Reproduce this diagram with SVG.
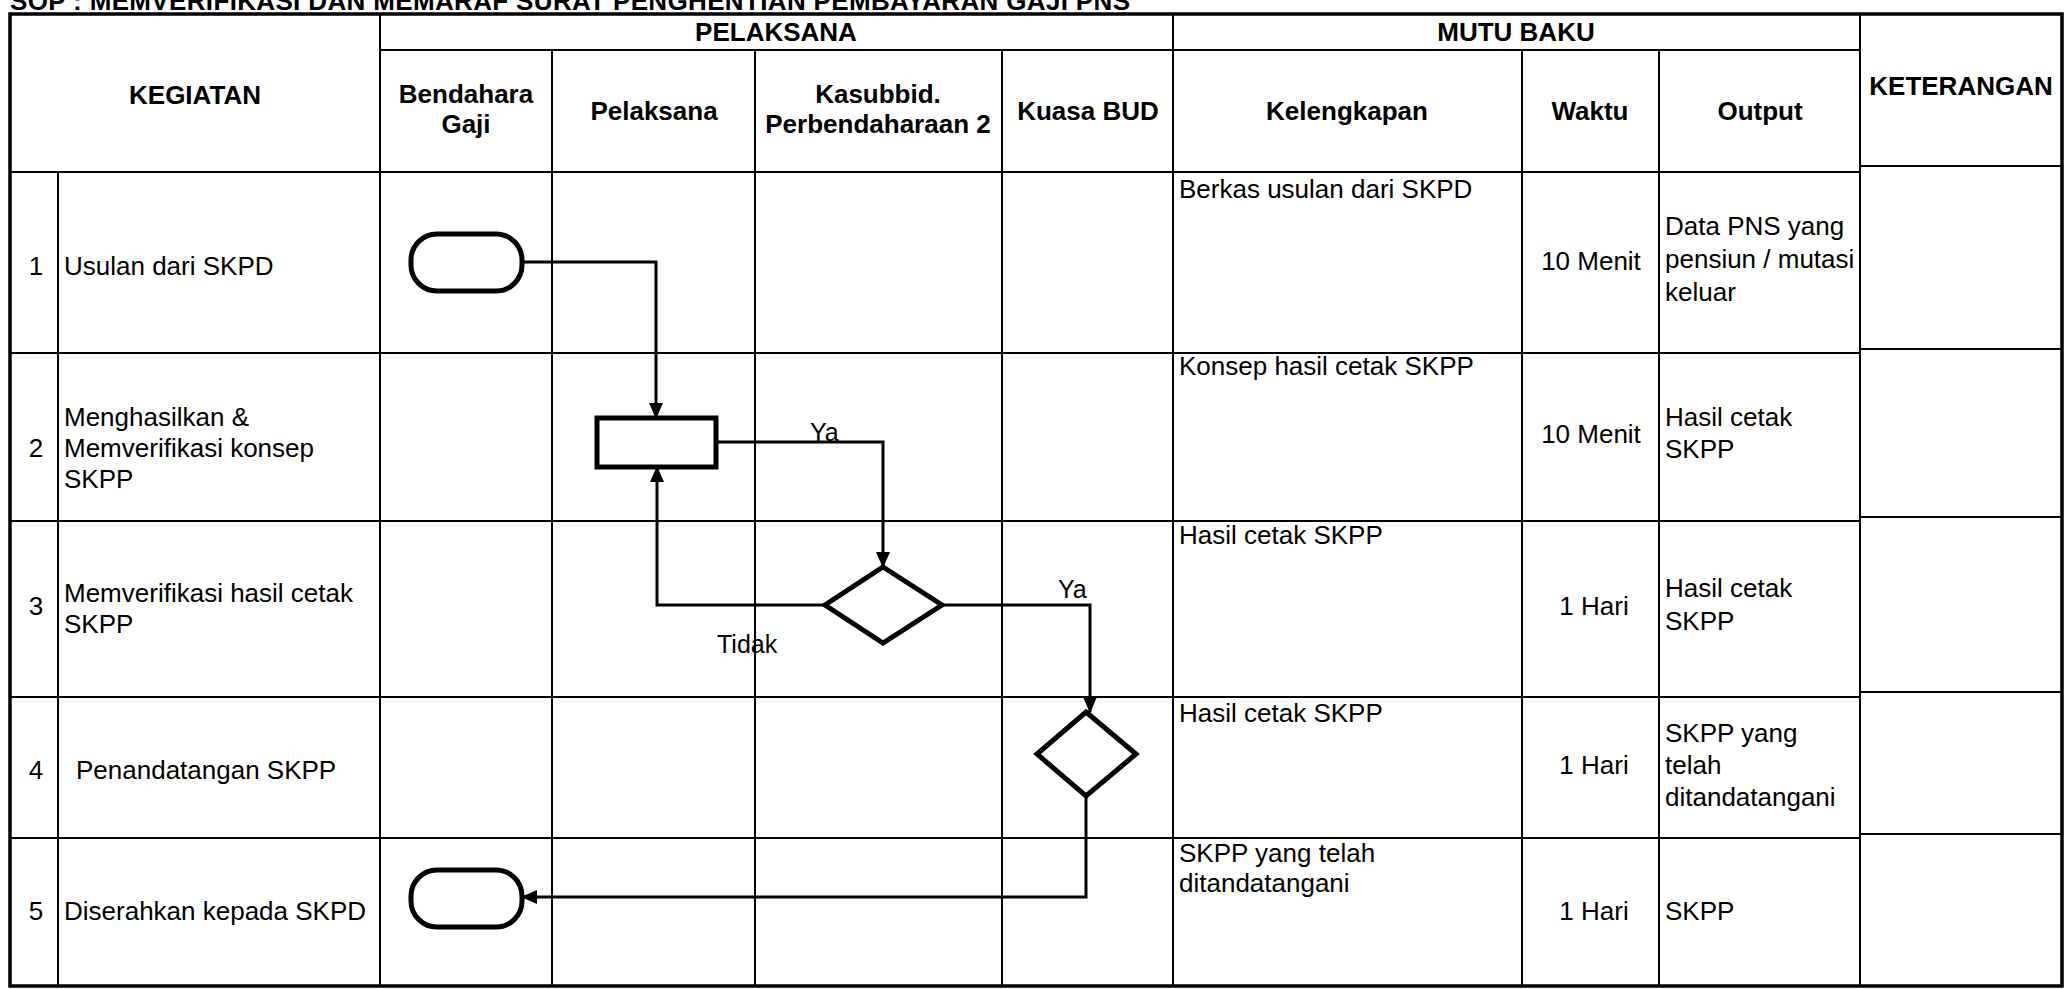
<svg xmlns="http://www.w3.org/2000/svg" width="2067" height="989" viewBox="0 0 2067 989">
<style>
  text { font-family: "Liberation Sans", Arial, sans-serif; fill: #000; }
  .h { font-weight: bold; font-size: 26px; text-anchor: middle; }
  .t { font-size: 26px; }
  .c { font-size: 26px; text-anchor: middle; }
  .lbl { font-size: 25px; }
  .grid { stroke: #000; stroke-width: 2; fill: none; }
  .outer { stroke: #000; stroke-width: 3.5; fill: none; }
  .shape { stroke: #000; stroke-width: 5; fill: #fff; }
  .conn { stroke: #000; stroke-width: 3; fill: none; marker-end: url(#arr); }
</style>
<defs>
  <marker id="arr" markerUnits="userSpaceOnUse" markerWidth="16" markerHeight="14" refX="15" refY="7" orient="auto">
    <path d="M0,0 L16,7 L0,14 z" fill="#000"/>
  </marker>
</defs>
<rect x="0" y="0" width="2067" height="989" fill="#fff"/>

<text class="h" x="10" y="10" style="text-anchor:start" textLength="1120" lengthAdjust="spacing">SOP : MEMVERIFIKASI DAN MEMARAF SURAT PENGHENTIAN PEMBAYARAN GAJI PNS</text>

<g id="table">
  <path class="grid" d="M380,50 H1860 M10,172 H1860 M1860,166 H2062 M10,353 H1860 M1860,349 H2062 M10,521 H1860 M1860,517 H2062 M10,697 H1860 M1860,692 H2062 M10,838 H1860 M1860,834 H2062"/>
  <path class="grid" d="M58,172 V986 M380,14 V986 M552,50 V986 M755,50 V986 M1002,50 V986 M1173,14 V986 M1522,50 V986 M1659,50 V986 M1860,14 V986"/>
  <rect class="outer" x="10" y="14" width="2052" height="972"/>
</g>

<g id="headers">
  <text class="h" x="776" y="41">PELAKSANA</text>
  <text class="h" x="1516" y="41">MUTU BAKU</text>
  <text class="h" x="195" y="104">KEGIATAN</text>
  <text class="h" x="466" y="103">Bendahara</text>
  <text class="h" x="466" y="133">Gaji</text>
  <text class="h" x="654" y="120">Pelaksana</text>
  <text class="h" x="878" y="103">Kasubbid.</text>
  <text class="h" x="878" y="133">Perbendaharaan 2</text>
  <text class="h" x="1088" y="120">Kuasa BUD</text>
  <text class="h" x="1347" y="120">Kelengkapan</text>
  <text class="h" x="1590" y="120">Waktu</text>
  <text class="h" x="1760" y="120">Output</text>
  <text class="h" x="1961" y="95">KETERANGAN</text>
</g>

<g id="row1">
  <text class="c" x="36" y="275">1</text>
  <text class="t" x="64" y="275">Usulan dari SKPD</text>
  <text class="t" x="1179" y="198">Berkas usulan dari SKPD</text>
  <text class="c" x="1591" y="270">10 Menit</text>
  <text class="t" x="1665" y="235">Data PNS yang</text>
  <text class="t" x="1665" y="268">pensiun / mutasi</text>
  <text class="t" x="1665" y="301">keluar</text>
</g>
<g id="row2">
  <text class="c" x="36" y="457">2</text>
  <text class="t" x="64" y="426">Menghasilkan &amp;</text>
  <text class="t" x="64" y="457">Memverifikasi konsep</text>
  <text class="t" x="64" y="488">SKPP</text>
  <text class="t" x="1179" y="375">Konsep hasil cetak SKPP</text>
  <text class="c" x="1591" y="443">10 Menit</text>
  <text class="t" x="1665" y="426">Hasil cetak</text>
  <text class="t" x="1665" y="458">SKPP</text>
</g>
<g id="row3">
  <text class="c" x="36" y="615">3</text>
  <text class="t" x="64" y="602">Memverifikasi hasil cetak</text>
  <text class="t" x="64" y="633">SKPP</text>
  <text class="t" x="1179" y="544">Hasil cetak SKPP</text>
  <text class="c" x="1594" y="615">1 Hari</text>
  <text class="t" x="1665" y="597">Hasil cetak</text>
  <text class="t" x="1665" y="630">SKPP</text>
</g>
<g id="row4">
  <text class="c" x="36" y="779">4</text>
  <text class="t" x="76" y="779">Penandatangan SKPP</text>
  <text class="t" x="1179" y="722">Hasil cetak SKPP</text>
  <text class="c" x="1594" y="774">1 Hari</text>
  <text class="t" x="1665" y="742">SKPP yang</text>
  <text class="t" x="1665" y="774">telah</text>
  <text class="t" x="1665" y="806">ditandatangani</text>
</g>
<g id="row5">
  <text class="c" x="36" y="920">5</text>
  <text class="t" x="64" y="920">Diserahkan kepada SKPD</text>
  <text class="t" x="1179" y="862">SKPP yang telah</text>
  <text class="t" x="1179" y="892">ditandatangani</text>
  <text class="c" x="1594" y="920">1 Hari</text>
  <text class="t" x="1665" y="920">SKPP</text>
</g>

<g id="connectors">
  <path class="conn" d="M522,262 H656 V418"/>
  <path class="conn" d="M716,442 H883 V567"/>
  <path class="conn" d="M825,605 H657 V467"/>
  <path class="conn" d="M942,605 H1090 V712"/>
  <path class="conn" d="M1086,796 V897 H522"/>
  <text class="lbl" x="810" y="441">Ya</text>
  <text class="lbl" x="1058" y="598">Ya</text>
  <text class="lbl" x="717" y="653">Tidak</text>
</g>

<g id="start">
  <rect class="shape" x="411" y="234" width="111" height="57" rx="26" ry="26"/>
</g>
<g id="process">
  <rect class="shape" x="597" y="418" width="119" height="49"/>
</g>
<g id="decision1">
  <polygon class="shape" points="883,567 942,605 883,643 825,605"/>
</g>
<g id="decision2">
  <polygon class="shape" points="1086,712 1136,754 1086,796 1037,754"/>
</g>
<g id="end">
  <rect class="shape" x="411" y="870" width="111" height="57" rx="26" ry="26"/>
</g>
</svg>
